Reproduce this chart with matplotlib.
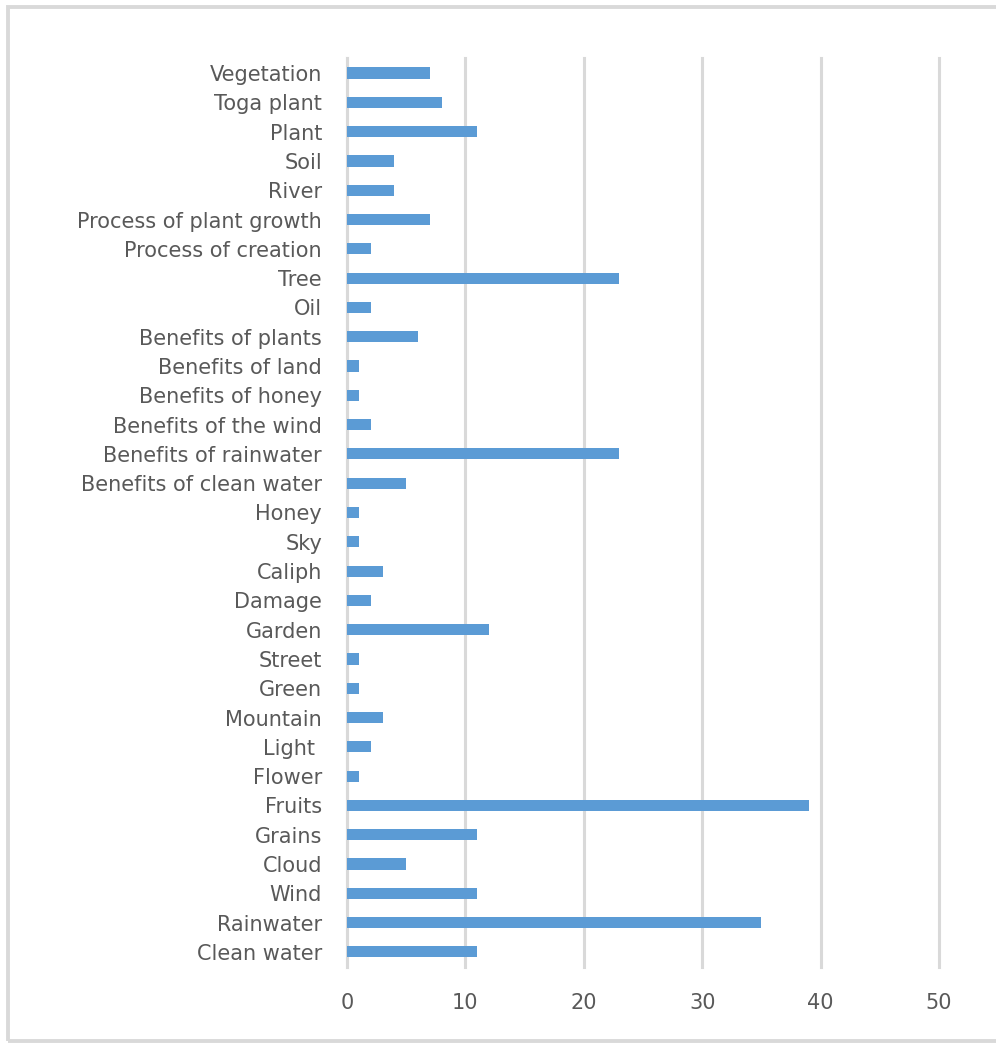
import matplotlib
matplotlib.use("Agg")
import matplotlib.pyplot as plt
from matplotlib.patches import Rectangle

# bottom -> top, as drawn by barh
categories = [
    "Clean water", "Rainwater", "Wind", "Cloud", "Grains", "Fruits", "Flower",
    "Light ", "Mountain", "Green", "Street", "Garden", "Damage", "Caliph", "Sky",
    "Honey", "Benefits of clean water", "Benefits of rainwater",
    "Benefits of the wind", "Benefits of honey", "Benefits of land",
    "Benefits of plants", "Oil", "Tree", "Process of creation",
    "Process of plant growth", "River", "Soil", "Plant", "Toga plant",
    "Vegetation",
]
counts = [11, 35, 11, 5, 11, 39, 1, 2, 3, 1, 1, 12, 2, 3, 1,
          1, 5, 23, 2, 1, 1, 6, 2, 23, 2, 7, 4, 4, 11, 8, 7]
xticks = [0, 10, 20, 30, 40, 50]

BAR = "#5b9bd5"
TXT = "#595959"
GRID = "#d9d9d9"
FS = 15

fig = plt.figure(figsize=(9.96, 10.43), dpi=100)
ax = fig.add_axes([0.3484, 0.0733, 0.5944, 0.8707])

ax.barh(range(len(categories)), counts, height=0.38, color=BAR, zorder=3)
ax.set_yticks(range(len(categories)))
ax.set_yticklabels(categories, fontsize=FS, color=TXT)
ax.set_ylim(-0.5, len(categories) - 0.5)
ax.set_xlim(0, 50)
ax.set_xticks(xticks)
ax.set_xticklabels([str(t) for t in xticks], fontsize=FS, color=TXT)
ax.tick_params(axis="y", length=0, pad=18)
ax.tick_params(axis="x", length=0, pad=19)
ax.grid(axis="x", color=GRID, linewidth=2.2, zorder=0)
for gl in ax.get_xgridlines():
    gl.set_clip_on(False)
for s in ["top", "right", "bottom"]:
    ax.spines[s].set_visible(False)
ax.spines["left"].set_color(GRID)
ax.spines["left"].set_linewidth(2.2)

# light frame around the chart
fig.patches.append(Rectangle((8 / 996, 2 / 1043), 1.2, 1034 / 1043,
                             transform=fig.transFigure, fill=False,
                             edgecolor="#d9d9d9", linewidth=2.8))

fig.savefig("out.png", dpi=100)
